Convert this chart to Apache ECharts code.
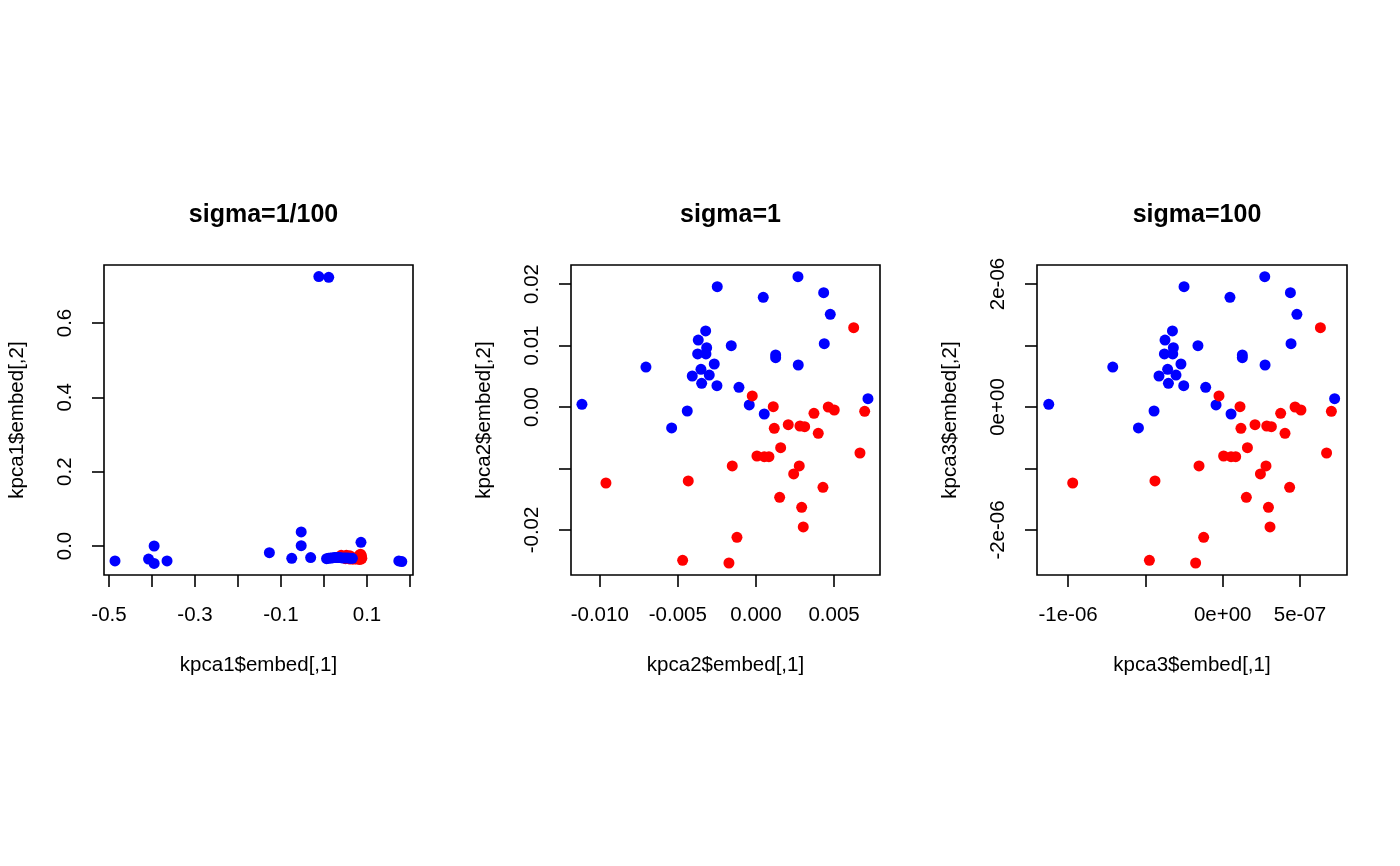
<!DOCTYPE html>
<html>
<head>
<meta charset="utf-8">
<script src="https://cdn.jsdelivr.net/npm/echarts@6/dist/echarts.min.js"></script>
<style>html,body{margin:0;padding:0;background:#fff;}#c{width:1400px;height:866px;}</style>
</head>
<body>
<div id="c"></div>
<script>
// ---- Panel titles and axis names ----
const titles = ['sigma=1/100', 'sigma=1', 'sigma=100'];
const xNames = ['kpca1$embed[,1]', 'kpca2$embed[,1]', 'kpca3$embed[,1]'];
const yNames = ['kpca1$embed[,2]', 'kpca2$embed[,2]', 'kpca3$embed[,2]'];

// ---- Tick values ----
const p1XTicks = [-0.5, -0.4, -0.3, -0.2, -0.1, 0.0, 0.1, 0.2];
const p1XLabels = [-0.5, -0.3, -0.1, 0.1];
const p1YTicks = [0.0, 0.2, 0.4, 0.6];
const p1YLabels = [0.0, 0.2, 0.4, 0.6];
const p2XTicks = [-0.010, -0.005, 0.000, 0.005];
const p2XLabels = [-0.010, -0.005, 0.000, 0.005];
const p2YTicks = [-0.02, -0.01, 0.00, 0.01, 0.02];
const p2YLabels = [-0.02, 0.00, 0.01, 0.02];
const p3XTicks = [-1e-6, -5e-7, 0, 5e-7];
const p3XLabels = [-1e-6, 0, 5e-7];
const p3YTicks = [-2e-6, -1e-6, 0, 1e-6, 2e-6];
const p3YLabels = [-2e-6, 0, 2e-6];

// ---- Panel 1 (sigma=1/100) ----
const p1BlueX = [-0.486,-0.408,-0.395,-0.395,-0.365,-0.127,-0.075,-0.053,-0.053,-0.031,-0.012,0.011,
  0.006,0.010,0.015,0.019,0.024,0.028,0.033,0.037,0.042,0.047,0.051,0.056,0.061,0.066,
  0.086,0.174,0.181];
const p1BlueY = [-0.040,-0.035,-0.047,0.000,-0.040,-0.018,-0.033,0.001,0.038,-0.031,0.725,0.723,
  -0.034,-0.033,-0.032,-0.032,-0.031,-0.031,-0.031,-0.031,-0.032,-0.032,-0.032,-0.032,-0.033,-0.033,
  0.010,-0.040,-0.042];
const p1RedX = [0.036,0.040,0.044,0.048,0.052,0.056,0.060,0.064,0.068,0.072,0.076,0.079,0.081,0.083,0.084,
  0.085,0.086,0.087,0.088,0.085,0.083,0.080,0.078,0.074,0.070,0.066,0.062,0.058,0.050];
const p1RedY = [-0.030,-0.025,-0.031,-0.029,-0.025,-0.030,-0.026,-0.031,-0.034,-0.032,-0.033,-0.030,-0.034,-0.024,-0.028,
  -0.031,-0.035,-0.026,-0.033,-0.022,-0.036,-0.029,-0.035,-0.034,-0.035,-0.034,-0.035,-0.034,-0.034];

// ---- Panel 2 (sigma=1) ----
const p2BlueX = [-0.002478,0.000467,0.002689,0.004334,0.004757,-0.00322,-0.003694,-0.003156,-0.003732,-0.003201,
  -0.001581,0.001261,0.001261,0.004373,-0.007042,-0.00267,-0.003521,-0.004078,-0.00299,0.002708,
  -0.003476,-0.002497,-0.001088,-0.01114,-0.000429,0.000531,-0.004398,-0.005397,0.00717];
const p2BlueY = [0.01956,0.01784,0.02119,0.01859,0.01507,0.01236,0.01089,0.00964,0.00862,0.00862,
  0.00997,0.00846,0.00802,0.01029,0.0065,0.00699,0.00613,0.00504,0.0052,0.00683,
  0.00385,0.00346,0.0032,0.00044,0.00033,-0.00114,-0.00065,-0.00341,0.00135];
const p2RedX = [0.006255,-0.000237,0.001108,0.004629,0.005013,0.003713,0.006959,0.001172,0.002068,0.002817,
  0.003118,0.003988,0.001581,0.000064,0.000531,0.000832,0.006658,-0.001517,0.002772,0.002414,
  -0.009603,-0.004334,0.004289,0.001517,0.002926,0.003028,-0.001216,-0.004693,-0.001729];
const p2RedY = [0.01289,0.00179,0.00005,0.0,-0.00049,-0.00102,-0.0007,-0.00346,-0.00288,-0.00309,
  -0.0032,-0.00428,-0.00662,-0.00797,-0.00808,-0.00808,-0.00748,-0.00959,-0.00959,-0.01089,
  -0.01236,-0.01203,-0.01306,-0.01468,-0.01631,-0.01951,-0.02119,-0.02493,-0.02537];

// ---- Panel 3 (sigma=100) ----
const p3BlueX = [-2.50e-7,4.7e-8,2.72e-7,4.38e-7,4.80e-7,-3.25e-7,-3.73e-7,-3.19e-7,-3.77e-7,-3.23e-7,
  -1.60e-7,1.27e-7,1.27e-7,4.42e-7,-7.11e-7,-2.70e-7,-3.56e-7,-4.12e-7,-3.02e-7,2.74e-7,
  -3.51e-7,-2.52e-7,-1.10e-7,-1.125e-6,-4.3e-8,5.4e-8,-4.44e-7,-5.45e-7,7.24e-7];
const p3BlueY = [1.956e-6,1.784e-6,2.119e-6,1.859e-6,1.507e-6,1.236e-6,1.089e-6,9.64e-7,8.62e-7,8.62e-7,
  9.97e-7,8.46e-7,8.02e-7,1.029e-6,6.5e-7,6.99e-7,6.13e-7,5.04e-7,5.2e-7,6.83e-7,
  3.85e-7,3.46e-7,3.2e-7,4.4e-8,3.3e-8,-1.14e-7,-6.5e-8,-3.41e-7,1.35e-7];
const p3RedX = [6.32e-7,-2.4e-8,1.12e-7,4.68e-7,5.06e-7,3.75e-7,7.03e-7,1.18e-7,2.09e-7,2.85e-7,
  3.15e-7,4.03e-7,1.60e-7,6e-9,5.4e-8,8.4e-8,6.72e-7,-1.53e-7,2.80e-7,2.44e-7,
  -9.70e-7,-4.38e-7,4.33e-7,1.53e-7,2.96e-7,3.06e-7,-1.23e-7,-4.74e-7,-1.75e-7];
const p3RedY = [1.289e-6,1.79e-7,5e-9,0,-4.9e-8,-1.02e-7,-7.0e-8,-3.46e-7,-2.88e-7,-3.09e-7,
  -3.2e-7,-4.28e-7,-6.62e-7,-7.97e-7,-8.08e-7,-8.08e-7,-7.48e-7,-9.59e-7,-9.59e-7,-1.089e-6,
  -1.236e-6,-1.203e-6,-1.306e-6,-1.468e-6,-1.631e-6,-1.951e-6,-2.119e-6,-2.493e-6,-2.537e-6];

// ---- helpers ----
function zip(xs, ys) { return xs.map((x, i) => [x, ys[i]]); }
function sci(v) {
  if (Math.abs(v) < 1e-20) return '0e+00';
  const e = Math.floor(Math.log10(Math.abs(v)) + 1e-9);
  const m = Math.round(v / Math.pow(10, e));
  const ae = Math.abs(e);
  return m + 'e' + (e < 0 ? '-' : '+') + (ae < 10 ? '0' : '') + ae;
}
function fixed(d) { return v => (Math.abs(v) < 1e-12 ? 0 : v).toFixed(d); }

const FONT = "'Liberation Sans', Arial, sans-serif";
const grids = [
  { left: 104, top: 265, width: 309, height: 310 },
  { left: 571, top: 265, width: 309, height: 310 },
  { left: 1037, top: 265, width: 310, height: 310 }
];
const xRanges = [[-0.5116, 0.2070], [-0.01184, 0.00794], [-1.201e-6, 8.04e-7]];
const yRanges = [[-0.078, 0.756], [-0.02732, 0.02309], [-2.732e-6, 2.309e-6]];
const xTicks = [p1XTicks, p2XTicks, p3XTicks];
const xLabels = [p1XLabels, p2XLabels, p3XLabels];
const yTicks = [p1YTicks, p2YTicks, p3YTicks];
const yLabels = [p1YLabels, p2YLabels, p3YLabels];
const xFmt = [fixed(1), fixed(3), sci];
const yFmt = [fixed(1), fixed(2), sci];

const tickStyle = { show: true, inside: false, length: 12, lineStyle: { color: '#000', width: 1.6 } };
const labelBase = { color: '#000', fontSize: 20.5, fontFamily: FONT };

const option = {
  animation: false,
  backgroundColor: '#fff',
  title: titles.map((t, i) => ({
    text: t,
    left: grids[i].left + grids[i].width / 2,
    top: 198,
    textAlign: 'center',
    textStyle: { fontSize: 25, fontWeight: 'bold', color: '#000', fontFamily: FONT }
  })),
  grid: grids.map(g => Object.assign({ show: true, borderColor: '#000', borderWidth: 1.6, containLabel: false }, g)),
  xAxis: grids.map((g, i) => ({
    type: 'value', gridIndex: i, min: xRanges[i][0], max: xRanges[i][1], position: 'bottom',
    name: xNames[i], nameLocation: 'middle', nameGap: 80,
    nameTextStyle: { color: '#000', fontSize: 20.5, fontFamily: FONT },
    axisLine: { show: false, onZero: false },
    axisTick: Object.assign({ customValues: xTicks[i] }, tickStyle),
    axisLabel: Object.assign({ customValues: xLabels[i], margin: 30, formatter: xFmt[i] }, labelBase),
    splitLine: { show: false }
  })),
  yAxis: grids.map((g, i) => ({
    type: 'value', gridIndex: i, min: yRanges[i][0], max: yRanges[i][1], position: 'left',
    name: yNames[i], nameLocation: 'middle', nameGap: 76,
    nameTextStyle: { color: '#000', fontSize: 20.5, fontFamily: FONT },
    axisLine: { show: false, onZero: false },
    axisTick: Object.assign({ customValues: yTicks[i] }, tickStyle),
    axisLabel: Object.assign({ customValues: yLabels[i], margin: 28, rotate: 90, formatter: yFmt[i] }, labelBase),
    splitLine: { show: false }
  })),
  series: [
    { data: zip(p1RedX, p1RedY), color: '#FF0000', idx: 0 },
    { data: zip(p1BlueX, p1BlueY), color: '#0000FF', idx: 0 },
    { data: zip(p2BlueX, p2BlueY), color: '#0000FF', idx: 1 },
    { data: zip(p2RedX, p2RedY), color: '#FF0000', idx: 1 },
    { data: zip(p3BlueX, p3BlueY), color: '#0000FF', idx: 2 },
    { data: zip(p3RedX, p3RedY), color: '#FF0000', idx: 2 }
  ].map(s => ({
    type: 'scatter', xAxisIndex: s.idx, yAxisIndex: s.idx, data: s.data,
    symbol: 'circle', symbolSize: 11,
    itemStyle: { color: s.color, opacity: 1 },
    emphasis: { disabled: true }
  }))
};

const chart = echarts.init(document.getElementById('c'), null, { renderer: 'canvas' });
chart.setOption(option);
</script>
</body>
</html>
